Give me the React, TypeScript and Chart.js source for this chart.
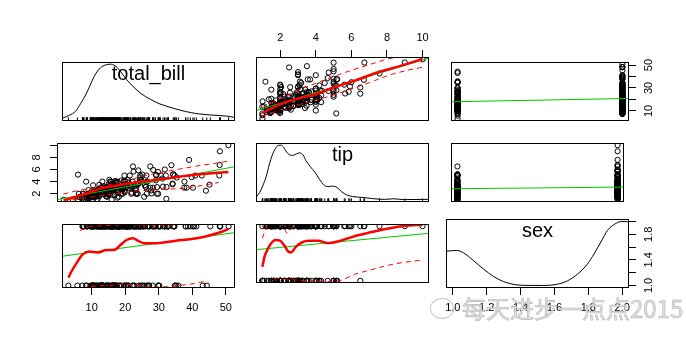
import React, { useEffect, useRef } from 'react';
import { Chart, registerables } from 'chart.js';

Chart.register(...registerables);

// ---------------- data: tips (total_bill, tip, sex) ----------------
const totalBill = [
  16.99, 10.34, 21.01, 23.68, 24.59, 25.29, 8.77, 26.88, 15.04, 14.78,
  10.27, 35.26, 15.42, 18.43, 14.83, 21.58, 10.33, 16.29, 16.97, 20.65,
  17.92, 20.29, 15.77, 39.42, 19.82, 17.81, 13.37, 12.69, 21.7, 19.65,
  9.55, 18.35, 15.06, 20.69, 17.78, 24.06, 16.31, 16.93, 18.69, 31.27,
  16.04, 17.46, 13.94, 9.68, 30.4, 18.29, 22.23, 32.4, 28.55, 18.04,
  12.54, 10.29, 34.81, 9.94, 25.56, 19.49, 38.01, 26.41, 11.24, 48.27,
  20.29, 13.81, 11.02, 18.29, 17.59, 20.08, 16.45, 3.07, 20.23, 15.01,
  12.02, 17.07, 26.86, 25.28, 14.73, 10.51, 17.92, 27.2, 22.76, 17.29,
  19.44, 16.66, 10.07, 32.68, 15.98, 34.83, 13.03, 18.28, 24.71, 21.16,
  28.97, 22.49, 5.75, 16.32, 22.75, 40.17, 27.28, 12.03, 21.01, 12.46,
  11.35, 15.38, 44.3, 22.42, 20.92, 15.36, 20.49, 25.21, 18.24, 14.31,
  14.0, 7.25, 38.07, 23.95, 25.71, 17.31, 29.93, 10.65, 12.43, 24.08,
  11.69, 13.42, 14.26, 15.95, 12.48, 29.8, 8.52, 14.52, 11.38, 22.82,
  19.08, 20.27, 11.17, 12.26, 18.26, 8.51, 10.33, 14.15, 16.0, 13.16,
  17.47, 34.3, 41.19, 27.05, 16.43, 8.35, 18.64, 11.87, 9.78, 7.51,
  14.07, 13.13, 17.26, 24.55, 19.77, 29.85, 48.17, 25.0, 13.39, 16.49,
  21.5, 12.66, 16.21, 13.81, 17.51, 24.52, 20.76, 31.71, 10.59, 10.63,
  50.81, 15.81, 7.25, 31.85, 16.82, 32.9, 17.89, 14.48, 9.6, 34.63,
  34.65, 23.33, 45.35, 23.17, 40.55, 20.69, 20.9, 30.46, 18.15, 23.1,
  15.69, 19.81, 28.44, 15.48, 16.58, 7.56, 10.34, 43.11, 13.0, 13.51,
  18.71, 12.74, 13.0, 16.4, 20.53, 16.47, 26.59, 38.73, 24.27, 12.76,
  30.06, 25.89, 48.33, 13.27, 28.17, 12.9, 28.15, 11.59, 7.74, 30.14,
  12.16, 13.42, 8.58, 15.98, 13.42, 16.27, 10.09, 20.45, 13.28, 22.12,
  24.01, 15.69, 11.61, 10.77, 15.53, 10.07, 12.6, 32.83, 35.83, 29.03,
  27.18, 22.67, 17.82, 18.78,
];
const tip = [
  1.01, 1.66, 3.5, 3.31, 3.61, 4.71, 2.0, 3.12, 1.96, 3.23,
  1.71, 5.0, 1.57, 3.0, 3.02, 3.92, 1.67, 3.71, 3.5, 3.35,
  4.08, 2.75, 2.23, 7.58, 3.18, 2.34, 2.0, 2.0, 4.3, 3.0,
  1.45, 2.5, 3.0, 2.45, 3.27, 3.6, 2.0, 3.07, 2.31, 5.0,
  2.24, 2.54, 3.06, 1.32, 5.6, 3.0, 5.0, 6.0, 2.05, 3.0,
  2.5, 2.6, 5.2, 1.56, 4.34, 3.51, 3.0, 1.5, 1.76, 6.73,
  3.21, 2.0, 1.98, 3.76, 2.64, 3.15, 2.47, 1.0, 2.01, 2.09,
  1.97, 3.0, 3.14, 5.0, 2.2, 1.25, 3.08, 4.0, 3.0, 2.71,
  3.0, 3.4, 1.83, 5.0, 2.03, 5.17, 2.0, 4.0, 5.85, 3.0,
  3.0, 3.5, 1.0, 4.3, 3.25, 4.73, 4.0, 1.5, 3.0, 1.5,
  2.5, 3.0, 2.5, 3.48, 4.08, 1.64, 4.06, 4.29, 3.76, 4.0,
  3.0, 1.0, 4.0, 2.55, 4.0, 3.5, 5.07, 1.5, 1.8, 2.92,
  2.31, 1.68, 2.5, 2.0, 2.52, 4.2, 1.48, 2.0, 2.0, 2.18,
  1.5, 2.83, 1.5, 2.0, 3.25, 1.25, 2.0, 2.0, 2.0, 2.75,
  3.5, 6.7, 5.0, 5.0, 2.3, 1.5, 1.36, 1.63, 1.73, 2.0,
  2.5, 2.0, 2.74, 2.0, 2.0, 5.14, 5.0, 3.75, 2.61, 2.0,
  3.5, 2.5, 2.0, 2.0, 3.0, 3.48, 2.24, 4.5, 1.61, 2.0,
  10.0, 3.16, 5.15, 3.18, 4.0, 3.11, 2.0, 2.0, 4.0, 3.55,
  3.68, 5.65, 3.5, 6.5, 3.0, 5.0, 3.5, 2.0, 3.5, 4.0,
  1.5, 4.19, 2.56, 2.02, 4.0, 1.44, 2.0, 5.0, 2.0, 2.0,
  4.0, 2.01, 2.0, 2.5, 4.0, 3.23, 3.41, 3.0, 2.03, 2.23,
  2.0, 5.16, 9.0, 2.5, 6.5, 1.1, 3.0, 1.5, 1.44, 3.09,
  2.2, 3.48, 1.92, 3.0, 1.58, 2.5, 2.0, 3.0, 2.72, 2.88,
  2.0, 3.0, 3.39, 1.47, 3.0, 1.25, 1.0, 1.17, 4.67, 5.92,
  2.0, 2.0, 1.75, 3.0,
];
// sex: 1 = Female, 2 = Male
const sex = [
  1, 2, 2, 2, 1, 2, 2, 2, 2, 2,
  2, 1, 2, 2, 1, 2, 1, 2, 1, 2,
  2, 1, 1, 2, 2, 2, 2, 2, 2, 1,
  2, 2, 1, 1, 2, 2, 2, 1, 2, 2,
  2, 2, 2, 2, 2, 2, 2, 2, 2, 2,
  2, 1, 1, 2, 2, 2, 2, 1, 2, 2,
  2, 2, 2, 2, 2, 2, 1, 1, 2, 2,
  2, 1, 1, 1, 1, 2, 2, 2, 2, 2,
  2, 2, 1, 2, 2, 1, 2, 2, 2, 2,
  2, 2, 1, 1, 1, 2, 2, 2, 2, 2,
  1, 1, 1, 1, 1, 2, 2, 2, 2, 1,
  2, 1, 2, 2, 1, 1, 2, 1, 1, 1,
  2, 1, 2, 2, 1, 1, 2, 1, 1, 2,
  2, 1, 1, 1, 1, 1, 1, 1, 2, 1,
  1, 2, 2, 1, 1, 1, 1, 1, 2, 2,
  2, 2, 2, 2, 2, 1, 2, 1, 1, 2,
  2, 2, 1, 2, 1, 2, 2, 2, 1, 1,
  2, 2, 2, 2, 2, 2, 2, 2, 1, 2,
  2, 2, 2, 2, 2, 2, 1, 2, 1, 2,
  2, 1, 2, 2, 2, 2, 2, 1, 1, 2,
  2, 1, 1, 1, 2, 1, 2, 2, 2, 1,
  2, 2, 2, 1, 1, 1, 2, 2, 2, 1,
  2, 1, 2, 1, 2, 1, 1, 2, 2, 1,
  2, 2, 2, 2, 2, 2, 2, 2, 1, 2,
  1, 2, 2, 1,
];

const varNames = ['total_bill', 'tip', 'sex'];

// axis ranges (data range + 4%)
const tbRange = [1.16, 52.72];
const tipRange = [0.64, 10.36];
const sexRange = [0.96, 2.04];
const densRange = [-0.04, 1.04];

// tick values and labels
const tbTicks = [10, 20, 30, 40, 50];
const tbLabelsBottom = ['10', '20', '30', '40', '50'];
const tbLabelsRight = ['10', '', '30', '', '50'];
const tipTicks = [2, 4, 6, 8, 10];
const tipLabelsTop = ['2', '4', '6', '8', '10'];
const tipLabelsLeft = ['2', '4', '6', '8', ''];
const sexTicks = [1.0, 1.2, 1.4, 1.6, 1.8, 2.0];
const sexLabelsBottom = ['1.0', '1.2', '1.4', '1.6', '1.8', '2.0'];
const sexLabelsRight = ['1.0', '', '1.4', '', '1.8', ''];

// density curves (relative to peak)
const tbDensX = [1.2, 3.4, 5.3, 6.7, 8.2, 9.6, 10.7, 11.9, 13.3, 14.8, 15.5, 16.2, 17.6, 19.0, 20.4, 22.3, 24.7, 27.5, 30.3, 34.1, 37.9, 41.7, 46.4, 50.2, 52.7];
const tbDensY = [0.01, 0.066, 0.146, 0.278, 0.437, 0.62, 0.77, 0.886, 0.965, 0.995, 1.0, 0.995, 0.94, 0.833, 0.72, 0.595, 0.463, 0.357, 0.273, 0.198, 0.135, 0.092, 0.066, 0.05, 0.025];
const tipDensX = [0.69, 0.85, 1.03, 1.21, 1.38, 1.56, 1.74, 1.91, 2.04, 2.18, 2.36, 2.54, 2.71, 2.89, 3.1, 3.28, 3.45, 3.68, 3.95, 4.21, 4.48, 4.69, 4.93, 5.1, 5.28, 5.46, 5.72, 6.07, 6.6, 7.14, 7.85, 8.38, 8.91, 10.3];
const tipDensY = [0.066, 0.135, 0.266, 0.425, 0.638, 0.822, 0.945, 0.997, 1.0, 0.965, 0.876, 0.822, 0.813, 0.838, 0.86, 0.822, 0.717, 0.611, 0.505, 0.373, 0.266, 0.241, 0.25, 0.241, 0.203, 0.146, 0.092, 0.06, 0.044, 0.024, 0.008, 0.019, 0.004, 0.008];
const sexDensX = [0.962, 1.023, 1.063, 1.122, 1.181, 1.241, 1.3, 1.38, 1.458, 1.537, 1.617, 1.676, 1.736, 1.795, 1.834, 1.874, 1.914, 1.953, 1.993, 2.022, 2.044];
const sexDensY = [0.536, 0.548, 0.511, 0.389, 0.257, 0.14, 0.06, 0.008, 0.0, 0.0, 0.019, 0.071, 0.177, 0.336, 0.495, 0.68, 0.865, 0.955, 1.0, 1.0, 0.981];

// linear regression lines (end points)
const regTbOnTipX = [0.64, 10.36], regTbOnTipY = [9.5, 51.9];
const regTbOnSexX = [0.96, 2.04], regTbOnSexY = [17.95, 20.85];
const regTipOnTbX = [1.16, 52.72], regTipOnTbY = [1.05, 6.46];
const regTipOnSexX = [0.96, 2.04], regTipOnSexY = [2.82, 3.1];
const regSexOnTbX = [1.16, 52.72], regSexOnTbY = [1.495, 1.895];
const regSexOnTipX = [0.64, 10.36], regSexOnTipY = [1.57, 1.87];

// smoothers and spreads
const smTbOnTipX = [1.0, 2.0, 2.89, 3.95, 5.19, 6.26, 7.49, 8.73, 10.0];
const smTbOnTipY = [7.6, 14.6, 18.8, 22.6, 29.0, 34.0, 40.4, 45.4, 51.1];
const upTbOnTipX = [1.0, 2.0, 3.0, 4.0, 5.0, 6.0, 7.0, 8.0, 8.6];
const upTbOnTipY = [12, 19, 26, 31.5, 37, 42, 46.5, 51, 52.7];
const loTbOnTipX = [1.0, 2.0, 3.0, 4.0, 5.0, 6.0, 7.0, 8.0, 9.0, 10.0];
const loTbOnTipY = [5, 10, 14, 18, 22, 27, 32, 37.5, 41.5, 44.5];

const smTipOnTbX = [3.07, 6.74, 10.5, 14.3, 18.07, 22.8, 27.5, 32.2, 36.9, 41.7, 50.81];
const smTipOnTbY = [0.93, 1.5, 2.2, 2.93, 3.3, 3.78, 4.11, 4.45, 4.83, 5.17, 5.6];
const upTipOnTbX = [3, 7, 12, 17, 22, 27, 32, 37, 42, 47, 51];
const upTipOnTbY = [1.95, 2.5, 2.95, 3.6, 4.3, 5.0, 5.6, 6.1, 6.6, 7.0, 7.4];
const loTipOnTbX = [3, 8, 13, 18, 23, 28, 33, 38, 43, 48];
const loTipOnTbY = [0.75, 1.2, 1.6, 2.0, 2.35, 2.6, 2.75, 2.9, 3.35, 3.85];

const smSexOnTbX = [3.07, 3.9, 5.3, 7.2, 9.1, 11.9, 14.3, 16.7, 18.5, 20.4, 22.3, 23.7, 25.6, 29.4, 35.1, 39.8, 44.5, 49.2, 50.81];
const smSexOnTbY = [1.135, 1.23, 1.362, 1.52, 1.574, 1.558, 1.6, 1.6, 1.68, 1.77, 1.8, 1.759, 1.717, 1.717, 1.759, 1.786, 1.838, 1.918, 1.96];
const upSexOnTbX = [6.5, 9, 13, 17, 21, 26, 31, 36, 41];
const upSexOnTbY = [1.93, 1.99, 2.01, 2.02, 2.03, 2.02, 2.02, 2.03, 2.05];
const loSexOnTbX = [7.2, 10.5, 15, 19, 22.8, 27.5, 32.2, 36, 39.8, 43.6];
const loSexOnTbY = [0.965, 0.992, 1.0, 1.028, 1.008, 0.976, 0.981, 1.003, 1.028, 1.071];

const smSexOnTipX = [1.0, 1.12, 1.29, 1.47, 1.74, 2.0, 2.27, 2.45, 2.62, 2.89, 3.24, 3.6, 4.13, 4.66, 5.19, 5.72, 6.43, 7.14, 7.85, 8.55, 9.26, 10.0];
const smSexOnTipY = [1.257, 1.441, 1.575, 1.68, 1.749, 1.733, 1.627, 1.537, 1.521, 1.627, 1.706, 1.733, 1.733, 1.69, 1.717, 1.77, 1.838, 1.892, 1.945, 1.987, 2.013, 2.024];
const upSexOnTipX = [1.0, 1.15, 1.3, 1.8, 2.2, 2.4, 2.6, 2.8, 3.5, 4.5, 5.5];
const upSexOnTipY = [1.78, 1.92, 2.04, 2.08, 1.98, 1.87, 1.95, 2.03, 2.04, 2.05, 2.06];
const loSexOnTipX = [1.2, 1.5, 1.8, 2.3, 3.0, 3.6, 4.5, 5.3, 6.2, 7.1, 8.0, 8.9, 9.9];
const loSexOnTipY = [0.95, 1.0, 1.045, 1.03, 1.01, 1.0, 0.985, 1.0, 1.12, 1.2, 1.28, 1.335, 1.375];

// ---------------- layout / style ----------------
const FONT = '"Liberation Sans", Arial, sans-serif';
const COL_LEFT = [57, 251, 446];
const ROW_TOP = [57, 138, 219];
const PW = 183;
const PH = 69;
const AX = 40;
const GREEN = '#00c800';
const RED = '#ff0000';

const pairs = (xs: number[], ys: number[]) => xs.map((x, i) => ({ x, y: ys[i] }));

const scatterDs = (xs: number[], ys: number[]) => ({
  type: 'scatter',
  data: pairs(xs, ys),
  pointRadius: 2.6,
  pointBorderWidth: 1,
  pointBorderColor: '#000',
  pointBackgroundColor: 'rgba(0,0,0,0)',
  showLine: false,
  clip: 0,
});

const lineDs = (xs: number[], ys: number[], color: string, width: number, dash: number[] = [], yAxisID = 'y') => ({
  type: 'line',
  data: pairs(xs, ys),
  borderColor: color,
  borderWidth: width,
  borderDash: dash,
  pointRadius: 0,
  fill: false,
  cubicInterpolationMode: 'monotone',
  clip: 0,
  yAxisID,
});

const rugDs = (xs: number[]) => ({
  type: 'scatter',
  data: xs.map((x) => ({ x, y: densRange[0] })),
  pointStyle: 'line',
  pointRotation: 90,
  pointRadius: 3.6,
  pointBorderWidth: 1,
  pointBorderColor: '#000',
  clip: 0,
});

const smoothSet = (sx, sy, ux, uy, lx, ly) => [
  lineDs(sx, sy, RED, 2.5),
  lineDs(ux, uy, RED, 1, [5, 4]),
  lineDs(lx, ly, RED, 1, [5, 4]),
];

type Axis = { pos: string; ticks: number[]; labels: string[]; pad: number };
type Panel = {
  row: number; col: number;
  x: number[]; y: number[];
  xAxis?: Axis; yAxis?: Axis; y2?: number[];
  title?: string;
  datasets: any[];
};

const PANELS: Panel[] = [
  { row: 0, col: 0, x: tbRange, y: densRange, title: varNames[0],
    datasets: [lineDs(tbDensX, tbDensY, '#000', 1), rugDs(totalBill)] },
  { row: 0, col: 1, x: tipRange, y: tbRange,
    xAxis: { pos: 'top', ticks: tipTicks, labels: tipLabelsTop, pad: 5.5 },
    datasets: [...smoothSet(smTbOnTipX, smTbOnTipY, upTbOnTipX, upTbOnTipY, loTbOnTipX, loTbOnTipY),
      lineDs(regTbOnTipX, regTbOnTipY, GREEN, 1), scatterDs(tip, totalBill)] },
  { row: 0, col: 2, x: sexRange, y: tbRange,
    yAxis: { pos: 'right', ticks: tbTicks, labels: tbLabelsRight, pad: 6.4 },
    datasets: [lineDs(regTbOnSexX, regTbOnSexY, GREEN, 1), scatterDs(sex, totalBill)] },
  { row: 1, col: 0, x: tbRange, y: tipRange,
    yAxis: { pos: 'left', ticks: tipTicks, labels: tipLabelsLeft, pad: 9.5 },
    datasets: [...smoothSet(smTipOnTbX, smTipOnTbY, upTipOnTbX, upTipOnTbY, loTipOnTbX, loTipOnTbY),
      lineDs(regTipOnTbX, regTipOnTbY, GREEN, 1), scatterDs(totalBill, tip)] },
  { row: 1, col: 1, x: tipRange, y: densRange, title: varNames[1],
    datasets: [lineDs(tipDensX, tipDensY, '#000', 1), rugDs(tip)] },
  { row: 1, col: 2, x: sexRange, y: tipRange,
    datasets: [lineDs(regTipOnSexX, regTipOnSexY, GREEN, 1), scatterDs(sex, tip)] },
  { row: 2, col: 0, x: tbRange, y: sexRange,
    xAxis: { pos: 'bottom', ticks: tbTicks, labels: tbLabelsBottom, pad: 6.5 },
    datasets: [...smoothSet(smSexOnTbX, smSexOnTbY, upSexOnTbX, upSexOnTbY, loSexOnTbX, loSexOnTbY),
      lineDs(regSexOnTbX, regSexOnTbY, GREEN, 1), scatterDs(totalBill, sex)] },
  { row: 2, col: 1, x: tipRange, y: sexRange,
    datasets: [...smoothSet(smSexOnTipX, smSexOnTipY, upSexOnTipX, upSexOnTipY, loSexOnTipX, loSexOnTipY),
      lineDs(regSexOnTipX, regSexOnTipY, GREEN, 1), scatterDs(tip, sex)] },
  { row: 2, col: 2, x: sexRange, y: densRange, y2: sexRange, title: varNames[2],
    xAxis: { pos: 'bottom', ticks: sexTicks, labels: sexLabelsBottom, pad: 6.5 },
    yAxis: { pos: 'right', ticks: sexTicks, labels: sexLabelsRight, pad: 4.9 },
    datasets: [lineDs(sexDensX, sexDensY, '#000', 1)] },
];

function geom(p: Panel) {
  const ax = p.xAxis, ay = p.yAxis;
  const l = ay && ay.pos === 'left' ? AX : 0;
  const r = ay && ay.pos === 'right' ? AX : 0;
  const t = ax && ax.pos === 'top' ? AX : 0;
  const b = ax && ax.pos === 'bottom' ? AX : 0;
  return { x: COL_LEFT[p.col] - l, y: ROW_TOP[p.row] - t, w: PW + l + r, h: PH + t + b };
}

function scaleCfg(range: number[], axis: Axis | undefined, isX: boolean) {
  const cfg: any = {
    type: 'linear', min: range[0], max: range[1], bounds: 'data',
    display: !!axis, grid: { display: false }, ticks: { display: false },
  };
  if (!axis) return cfg;
  cfg.position = axis.pos;
  cfg.grid = { display: true, drawOnChartArea: false, drawTicks: true, tickLength: 7, color: '#000', lineWidth: 1 };
  cfg.border = { display: false };
  cfg.ticks = {
    display: true, autoSkip: false, color: '#000', padding: axis.pad,
    font: { family: FONT, size: 11 },
    minRotation: isX ? 0 : 90, maxRotation: isX ? 0 : 90,
    callback: (_v: any, i: number) => axis.labels[i] ?? '',
  };
  if (!isX) cfg.ticks.crossAlign = 'center';
  cfg.afterBuildTicks = (s: any) => { s.ticks = axis.ticks.map((v) => ({ value: v })); };
  cfg.afterFit = (s: any) => {
    if (isX) s.height = AX; else s.width = AX;
    s.paddingLeft = 0; s.paddingRight = 0; s.paddingTop = 0; s.paddingBottom = 0;
  };
  return cfg;
}

const panelPlugin = {
  id: 'panelBox',
  afterDraw(chart: any) {
    const { ctx, chartArea: a } = chart;
    ctx.save();
    ctx.strokeStyle = '#000';
    ctx.lineWidth = 1;
    ctx.strokeRect(a.left + 0.5, a.top + 0.5, a.right - a.left - 1, a.bottom - a.top - 1);
    const title = chart.options.plugins.panelBox && chart.options.plugins.panelBox.title;
    if (title) {
      ctx.font = `20px ${FONT}`;
      ctx.fillStyle = '#000';
      ctx.textAlign = 'center';
      ctx.textBaseline = 'alphabetic';
      ctx.fillText(title, (a.left + a.right) / 2, a.top + 17.5);
    }
    ctx.restore();
  },
};

function buildConfig(p: Panel): any {
  const scales: any = {
    x: scaleCfg(p.x, p.xAxis, true),
    y: scaleCfg(p.y, p.y2 ? undefined : p.yAxis, false),
  };
  if (p.y2) scales.y2 = scaleCfg(p.y2, p.yAxis, false);
  return {
    type: 'scatter',
    data: { datasets: p.datasets },
    options: {
      animation: false,
      responsive: false,
      maintainAspectRatio: false,
      events: [],
      layout: { padding: 0 },
      plugins: { legend: { display: false }, tooltip: { enabled: false }, panelBox: { title: p.title } },
      scales,
    },
    plugins: [panelPlugin],
  };
}

export default function App() {
  const refs = useRef<(HTMLCanvasElement | null)[]>([]);
  useEffect(() => {
    const charts = PANELS.map((p, i) => new Chart(refs.current[i] as HTMLCanvasElement, buildConfig(p)));
    return () => charts.forEach((c) => c.destroy());
  }, []);
  return (
    <div style={{ position: 'absolute', left: 0, top: 0, width: 686, height: 345, background: '#fff', overflow: 'hidden' }}>
      {PANELS.map((p, i) => {
        const g = geom(p);
        return (
          <canvas
            key={i}
            ref={(el) => { refs.current[i] = el; }}
            width={g.w}
            height={g.h}
            style={{ position: 'absolute', left: g.x, top: g.y, width: g.w, height: g.h }}
          />
        );
      })}
      <div style={{ position: 'absolute', left: 430, top: 298, width: 22, height: 19, border: '1.5px solid #c8c8c8', borderRadius: '50%' }} />
      <div style={{
        position: 'absolute', left: 462, top: 296, fontSize: 24, lineHeight: '24px', whiteSpace: 'nowrap',
        fontFamily: '"Noto Sans CJK SC", sans-serif', color: 'rgba(220,220,220,0.85)', WebkitTextStroke: '0.6px #b4b4b4',
      }}>每天进步一点点2015</div>
    </div>
  );
}
